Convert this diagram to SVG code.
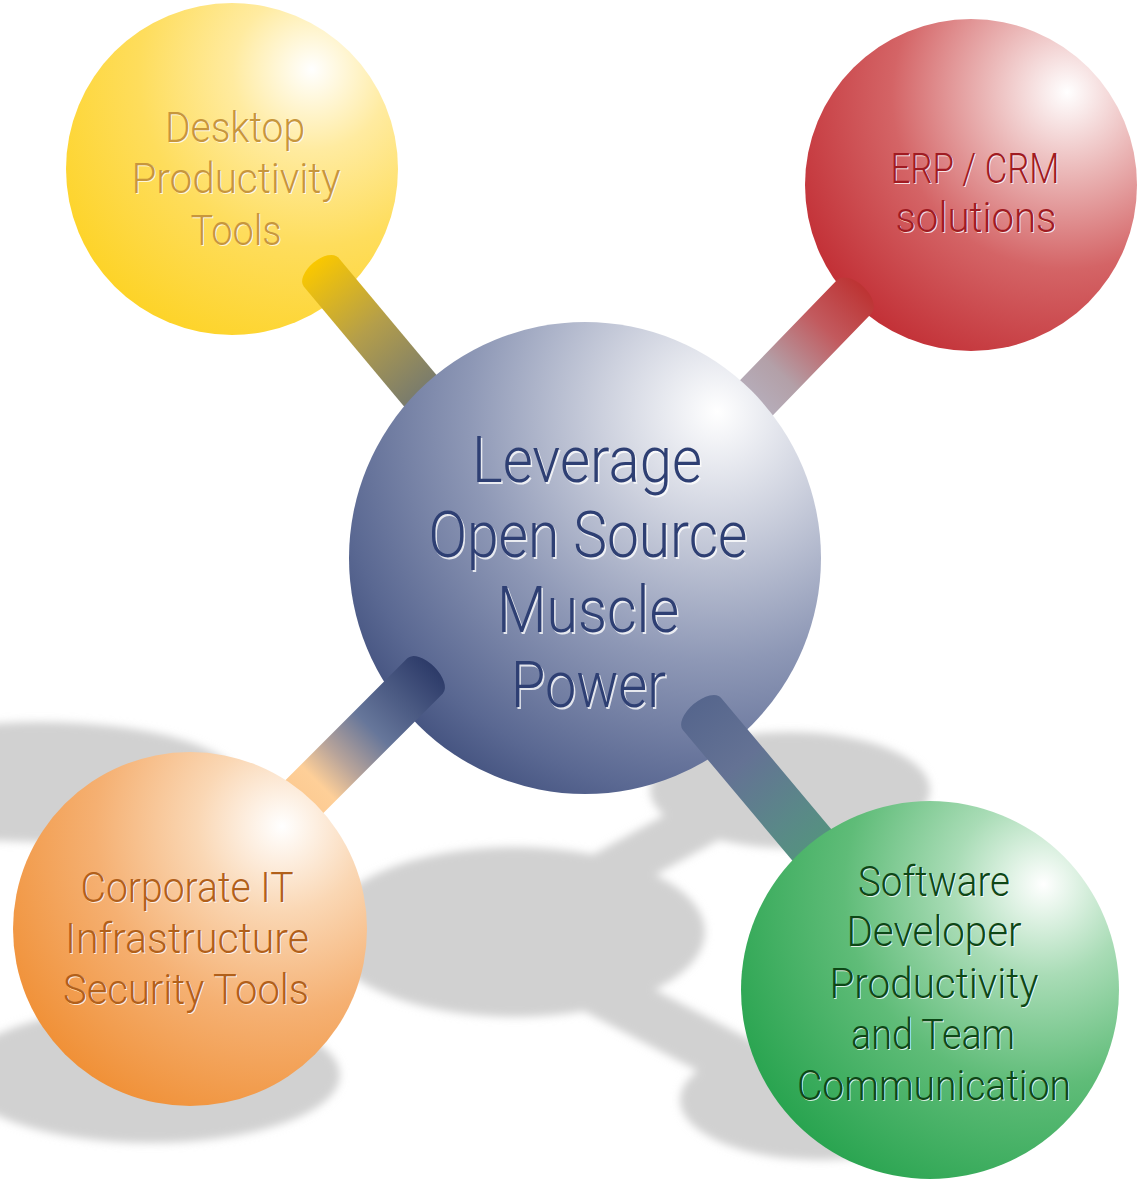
<svg xmlns="http://www.w3.org/2000/svg" width="1143" height="1183" viewBox="0 0 1143 1183">
<defs>
<style>
.t{font-family:"Roboto","Liberation Sans",sans-serif;font-weight:300;text-anchor:middle}
.hl{fill:#ffffff;opacity:0.8}
.big{font-size:64px}
.sm{font-size:43px}
.tc{fill:#2e3f73}
.ty{fill:#c7963c}
.tr{fill:#a01b22}
.to{fill:#b1601a}
.tg{fill:#0d4716}
.shadow{fill:#d1d1d1;stroke:#d1d1d1}
</style>
<filter id="blur" x="-10%" y="-10%" width="120%" height="120%"><feGaussianBlur stdDeviation="4"/></filter>
<radialGradient id="gC" cx="0.77" cy="0.2" r="0.95" fx="0.78" fy="0.19">
<stop offset="0" stop-color="#ffffff"/><stop offset="0.25" stop-color="#cdd1de"/><stop offset="0.55" stop-color="#8e98b6"/><stop offset="0.85" stop-color="#5a6892"/><stop offset="1" stop-color="#3d4c7a"/>
</radialGradient>
<radialGradient id="gY" cx="0.74" cy="0.22" r="0.95" fx="0.74" fy="0.2">
<stop offset="0" stop-color="#ffffff"/><stop offset="0.25" stop-color="#ffeba0"/><stop offset="0.55" stop-color="#fedd5c"/><stop offset="1" stop-color="#fdd11c"/>
</radialGradient>
<radialGradient id="gR" cx="0.78" cy="0.24" r="0.95" fx="0.79" fy="0.22">
<stop offset="0" stop-color="#ffffff"/><stop offset="0.25" stop-color="#ebb8b8"/><stop offset="0.55" stop-color="#d46466"/><stop offset="1" stop-color="#bf262d"/>
</radialGradient>
<radialGradient id="gO" cx="0.75" cy="0.22" r="0.95" fx="0.76" fy="0.21">
<stop offset="0" stop-color="#ffffff"/><stop offset="0.25" stop-color="#fad7b4"/><stop offset="0.55" stop-color="#f5b072"/><stop offset="1" stop-color="#ef8a2b"/>
</radialGradient>
<radialGradient id="gG" cx="0.79" cy="0.24" r="0.95" fx="0.8" fy="0.22">
<stop offset="0" stop-color="#ffffff"/><stop offset="0.25" stop-color="#a9dcb6"/><stop offset="0.55" stop-color="#5fbc78"/><stop offset="1" stop-color="#20a049"/>
</radialGradient>
<linearGradient id="lY" gradientUnits="userSpaceOnUse" x1="-12" y1="0" x2="160" y2="0">
<stop offset="0" stop-color="#fac800"/><stop offset="0.5" stop-color="#b49e4a"/><stop offset="1" stop-color="#777a6e"/>
</linearGradient>
<linearGradient id="lR" gradientUnits="userSpaceOnUse" x1="-12" y1="0" x2="170" y2="0">
<stop offset="0" stop-color="#bd3434"/><stop offset="0.3" stop-color="#c25a5e"/><stop offset="0.65" stop-color="#b3a0a8"/><stop offset="1" stop-color="#b8b6c6"/>
</linearGradient>
<linearGradient id="lO" gradientUnits="userSpaceOnUse" x1="-12" y1="0" x2="180" y2="0">
<stop offset="0" stop-color="#2d3b69"/><stop offset="0.45" stop-color="#66769a"/><stop offset="0.68" stop-color="#b8a49a"/><stop offset="0.85" stop-color="#fecf98"/><stop offset="1" stop-color="#fcc990"/>
</linearGradient>
<linearGradient id="lG" gradientUnits="userSpaceOnUse" x1="-12" y1="0" x2="200" y2="0">
<stop offset="0" stop-color="#56668d"/><stop offset="0.35" stop-color="#647294"/><stop offset="0.7" stop-color="#5a8888"/><stop offset="1" stop-color="#52987a"/>
</linearGradient>
</defs>
<rect width="1143" height="1183" fill="#ffffff"/>

<g id="shadows" class="shadow" filter="url(#blur)">
<ellipse cx="40" cy="782" rx="200" ry="60" stroke="none"/>
<ellipse cx="515" cy="932" rx="190" ry="85" stroke="none"/>
<ellipse cx="790" cy="790" rx="140" ry="58" stroke="none"/>
<ellipse cx="150" cy="1075" rx="190" ry="68" stroke="none"/>
<ellipse cx="820" cy="1100" rx="140" ry="60" stroke="none"/>
<line x1="560" y1="900" x2="760" y2="790" stroke-width="48" fill="none"/>
<line x1="590" y1="985" x2="790" y2="1090" stroke-width="52" fill="none"/>
</g>

<g id="node-yellow">
<circle cx="232" cy="169" r="166" fill="url(#gY)"/>
<text class="t sm hl" x="236" y="143" textLength="140" lengthAdjust="spacingAndGlyphs">Desktop</text>
<text class="t sm ty" x="235" y="142" textLength="140" lengthAdjust="spacingAndGlyphs">Desktop</text>
<text class="t sm hl" x="237" y="194" textLength="209" lengthAdjust="spacingAndGlyphs">Productivity</text>
<text class="t sm ty" x="236" y="193" textLength="209" lengthAdjust="spacingAndGlyphs">Productivity</text>
<text class="t sm hl" x="237" y="246" textLength="91" lengthAdjust="spacingAndGlyphs">Tools</text>
<text class="t sm ty" x="236" y="245" textLength="91" lengthAdjust="spacingAndGlyphs">Tools</text>
</g>

<g id="node-red">
<circle cx="971" cy="185" r="166" fill="url(#gR)"/>
<text class="t sm hl" x="976" y="184" textLength="169" lengthAdjust="spacingAndGlyphs">ERP / CRM</text>
<text class="t sm tr" x="975" y="183" textLength="169" lengthAdjust="spacingAndGlyphs">ERP / CRM</text>
<text class="t sm hl" x="977" y="233" textLength="161" lengthAdjust="spacingAndGlyphs">solutions</text>
<text class="t sm tr" x="976" y="232" textLength="161" lengthAdjust="spacingAndGlyphs">solutions</text>
</g>

<g id="connectors">
<g id="conn-yellow" transform="translate(321,272) rotate(50.1)">
<path d="M0,-22.5 L190,-22.5 L190,22.5 L0,22.5 A12 22.5 0 0 1 0,-22.5 Z" fill="url(#lY)"/>
</g>
<g id="conn-red" transform="translate(854,297) rotate(134.1)">
<path d="M0,-24 L200,-24 L200,24 L0,24 A14 24 0 0 1 0,-24 Z" fill="url(#lR)"/>
</g>
</g>

<g id="node-center">
<circle cx="585" cy="558" r="236" fill="url(#gC)"/>
<text class="t big hl" x="588.5" y="483.5" textLength="230" lengthAdjust="spacingAndGlyphs">Leverage</text>
<text class="t big tc" x="587" y="482" textLength="230" lengthAdjust="spacingAndGlyphs">Leverage</text>
<text class="t big hl" x="589.5" y="558.5" textLength="319" lengthAdjust="spacingAndGlyphs">Open Source</text>
<text class="t big tc" x="588" y="557" textLength="319" lengthAdjust="spacingAndGlyphs">Open Source</text>
<text class="t big hl" x="589.5" y="633.5" textLength="182" lengthAdjust="spacingAndGlyphs">Muscle</text>
<text class="t big tc" x="588" y="632" textLength="182" lengthAdjust="spacingAndGlyphs">Muscle</text>
<text class="t big hl" x="590" y="708.5" textLength="155" lengthAdjust="spacingAndGlyphs">Power</text>
<text class="t big tc" x="588.5" y="707" textLength="155" lengthAdjust="spacingAndGlyphs">Power</text>
</g>

<g id="connectors-front">
<g id="conn-orange" transform="translate(425,676) rotate(135)">
<path d="M0,-25 L210,-25 L210,25 L0,25 A13 25 0 0 1 0,-25 Z" fill="url(#lO)"/>
</g>
<g id="conn-green" transform="translate(702,714) rotate(50)">
<path d="M0,-25 L220,-25 L220,25 L0,25 A13 25 0 0 1 0,-25 Z" fill="url(#lG)"/>
</g>
</g>

<g id="node-orange">
<circle cx="190" cy="929" r="177" fill="url(#gO)"/>
<text class="t sm hl" x="188" y="903" textLength="213" lengthAdjust="spacingAndGlyphs">Corporate IT</text>
<text class="t sm to" x="187" y="902" textLength="213" lengthAdjust="spacingAndGlyphs">Corporate IT</text>
<text class="t sm hl" x="188" y="954" textLength="244" lengthAdjust="spacingAndGlyphs">Infrastructure</text>
<text class="t sm to" x="187" y="953" textLength="244" lengthAdjust="spacingAndGlyphs">Infrastructure</text>
<text class="t sm hl" x="187" y="1005" textLength="246" lengthAdjust="spacingAndGlyphs">Security Tools</text>
<text class="t sm to" x="186" y="1004" textLength="246" lengthAdjust="spacingAndGlyphs">Security Tools</text>
</g>

<g id="node-green">
<circle cx="930" cy="990" r="189" fill="url(#gG)"/>
<text class="t sm hl" x="935" y="897" textLength="152" lengthAdjust="spacingAndGlyphs">Software</text>
<text class="t sm tg" x="934" y="896" textLength="152" lengthAdjust="spacingAndGlyphs">Software</text>
<text class="t sm hl" x="935" y="947" textLength="175" lengthAdjust="spacingAndGlyphs">Developer</text>
<text class="t sm tg" x="934" y="946" textLength="175" lengthAdjust="spacingAndGlyphs">Developer</text>
<text class="t sm hl" x="935" y="999" textLength="209" lengthAdjust="spacingAndGlyphs">Productivity</text>
<text class="t sm tg" x="934" y="998" textLength="209" lengthAdjust="spacingAndGlyphs">Productivity</text>
<text class="t sm hl" x="934" y="1050" textLength="164" lengthAdjust="spacingAndGlyphs">and Team</text>
<text class="t sm tg" x="933" y="1049" textLength="164" lengthAdjust="spacingAndGlyphs">and Team</text>
<text class="t sm hl" x="935" y="1101" textLength="274" lengthAdjust="spacingAndGlyphs">Communication</text>
<text class="t sm tg" x="934" y="1100" textLength="274" lengthAdjust="spacingAndGlyphs">Communication</text>
</g>
</svg>
